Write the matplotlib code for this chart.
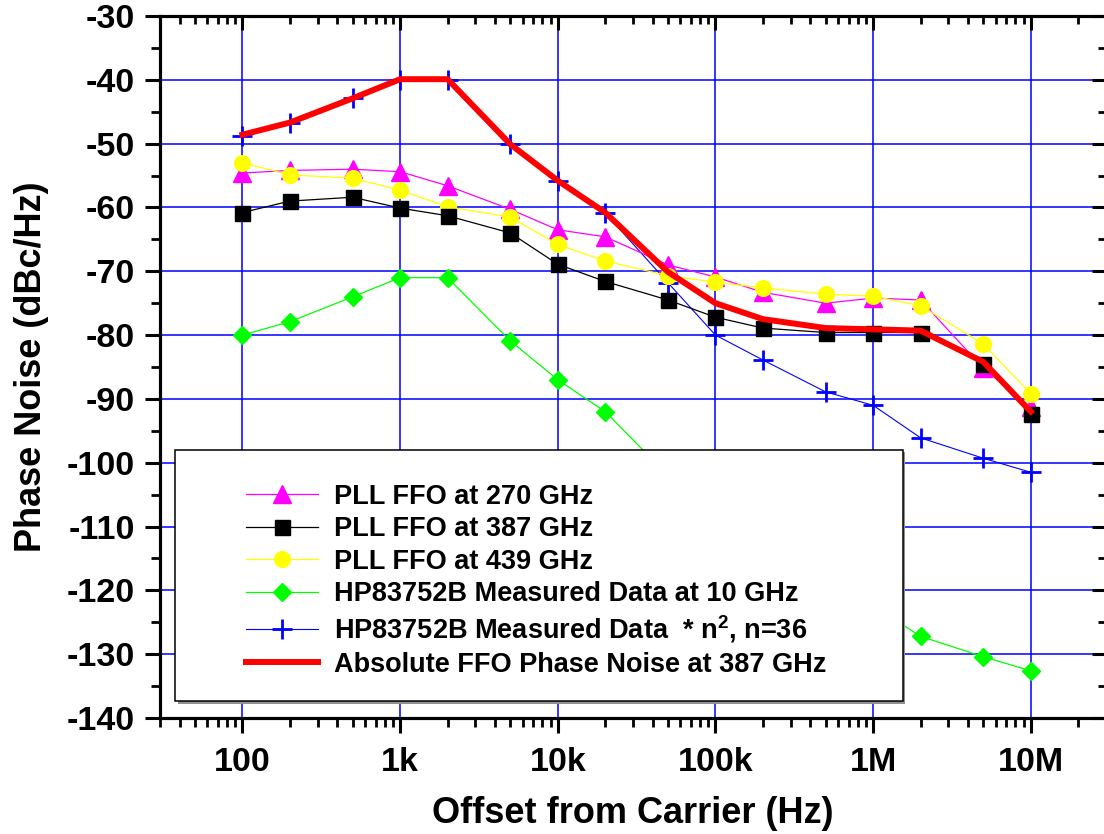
import numpy as np
import matplotlib
matplotlib.use("Agg")
import matplotlib.pyplot as plt
import matplotlib.transforms as mtransforms
from matplotlib.patches import Rectangle
from matplotlib.ticker import (FixedLocator, FixedFormatter, LogLocator,
                               NullFormatter, MultipleLocator)

plt.rcParams['font.family'] = ['Liberation Sans', 'DejaVu Sans']
plt.rcParams['font.weight'] = 'bold'
plt.rcParams['axes.unicode_minus'] = False
plt.rcParams['mathtext.fontset'] = 'custom'
plt.rcParams['mathtext.rm'] = 'Liberation Sans:bold'
plt.rcParams['mathtext.it'] = 'Liberation Sans:bold'
plt.rcParams['mathtext.bf'] = 'Liberation Sans:bold'

# -----------------------------
# DATA
# -----------------------------
freq = [100, 200, 500, 1e3, 2e3, 5e3, 1e4, 2e4, 5e4, 1e5, 2e5, 5e5, 1e6, 2e6, 5e6, 1e7]

pll_270 = [-54.6, -54.2, -54.0, -54.4, -56.6, -60.3, -63.5, -64.6, -69.0, -70.9,
           -73.3, -75.0, -74.2, -74.5, -85.2, -91.3]
pll_387 = [-60.8, -59.0, -58.4, -60.1, -61.3, -64.0, -68.9, -71.6, -74.5, -77.2,
           -78.9, -79.6, -79.6, -79.6, -84.5, -92.4]
pll_439 = [-53.0, -54.9, -55.4, -57.3, -59.9, -61.5, -65.8, -68.4, -70.7, -71.7,
           -72.6, -73.6, -73.9, -75.4, -81.4, -89.2]
hp_10ghz = [-80.0, -77.9, -74.0, -71.0, -71.0, -80.9, -87.0, -92.0, -102.0, -111.0,
            -117.0, -121.0, -122.4, -127.2, -130.4, -132.6]
hp_n2 = [-48.8, -46.8, -42.8, -40.0, -40.0, -50.1, -55.9, -60.9, -71.8, -80.0,
         -83.9, -88.9, -91.0, -96.1, -99.3, -101.5]
ffo_abs = [-48.6, -46.7, -42.9, -39.9, -39.9, -50.1, -55.8, -60.8, -70.1, -75.0,
           -77.5, -78.9, -79.1, -79.3, -84.2, -92.0]

labels = ["PLL FFO at 270 GHz",
          "PLL FFO at 387 GHz",
          "PLL FFO at 439 GHz",
          "HP83752B Measured Data at 10 GHz",
          "HP83752B Measured Data  * n$^{2}$, n=36",
          "Absolute FFO Phase Noise at 387 GHz"]

xticks = [100, 1e3, 1e4, 1e5, 1e6, 1e7]
xticklabels = ["100", "1k", "10k", "100k", "1M", "10M"]
yticks = [-140, -130, -120, -110, -100, -90, -80, -70, -60, -50, -40, -30]

# -----------------------------
# FIGURE
# -----------------------------
fig = plt.figure(figsize=(11.04, 8.34), dpi=100)
ax = fig.add_axes([160 / 1104, 116 / 834, 946 / 1104, 702 / 834])

h_hp10, = ax.plot(freq, hp_10ghz, color='#00FF00', lw=0.9, marker='D', ms=9.2,
                  mec='#00FF00', zorder=2.0)
h_n2, = ax.plot(freq, hp_n2, color='#0000FF', lw=0.8, marker='+', ms=15, mew=2,
                zorder=2.1)
h_270, = ax.plot(freq, pll_270, color='#FF00FF', lw=0.9, marker='^', ms=13.5,
                 mec='#FF00FF', zorder=2.2)
h_439, = ax.plot(freq, pll_439, color='#FFFF00', lw=0.9, marker='o', ms=11.3,
                 mec='#FFFF00', zorder=2.3)
h_387, = ax.plot(freq, pll_387, color='black', lw=0.9, marker='s', ms=10.8,
                 mec='black', zorder=2.4)
h_abs, = ax.plot(freq, ffo_abs, color='#FF0000', lw=4.3, solid_joinstyle='round',
                 zorder=2.5)

ax.set_xscale('log')
ax.set_xlim(30, 3e7)
ax.set_ylim(-140, -30)

ax.xaxis.set_major_locator(FixedLocator(xticks))
ax.xaxis.set_major_formatter(FixedFormatter(xticklabels))
ax.xaxis.set_minor_locator(LogLocator(base=10, subs=np.arange(2, 10), numticks=30))
ax.xaxis.set_minor_formatter(NullFormatter())
ax.yaxis.set_major_locator(FixedLocator(yticks))
ax.yaxis.set_minor_locator(MultipleLocator(5))

ax.grid(True, which='major', color='#0000FF', lw=1.1)
ax.tick_params(which='major', direction='out', length=11, width=2.2,
               labelsize=24.5, pad=7)
ax.tick_params(axis='x', which='major', pad=10)
ax.tick_params(which='minor', direction='out', length=6.5, width=2.0)
for s in ax.spines.values():
    s.set_linewidth(2.2)

ax.set_xlabel("Offset from Carrier (Hz)", fontsize=26, fontweight='bold', labelpad=13)
ax.set_ylabel("Phase Noise (dBc/Hz)", fontsize=26, fontweight='bold', labelpad=13)

# inward ticks on top and right
axt = ax.twiny()
axt.set_xscale('log')
axt.set_xlim(ax.get_xlim())
axt.xaxis.set_major_locator(FixedLocator(xticks))
axt.xaxis.set_minor_locator(LogLocator(base=10, subs=np.arange(2, 10), numticks=30))
axt.xaxis.set_major_formatter(NullFormatter())
axt.xaxis.set_minor_formatter(NullFormatter())
axt.tick_params(axis='x', which='major', direction='in', length=10, width=2.2)
axt.tick_params(axis='x', which='minor', direction='in', length=6, width=2.0)

axr = ax.twinx()
axr.set_ylim(ax.get_ylim())
axr.yaxis.set_major_locator(FixedLocator(yticks))
axr.yaxis.set_minor_locator(MultipleLocator(5))
axr.yaxis.set_major_formatter(NullFormatter())
axr.tick_params(axis='y', which='major', direction='in', length=10, width=2.2)
axr.tick_params(axis='y', which='minor', direction='in', length=6, width=2.0)
for a in (axt, axr):
    for s in a.spines.values():
        s.set_linewidth(2.2)

# legend box with shadow
shadow_tr = mtransforms.offset_copy(ax.transAxes, fig=fig, x=2.5, y=-2.5, units='dots')
ax.add_patch(Rectangle((0.0159, 0.0242), 0.7695, 0.3576, transform=shadow_tr,
                       fc='#909090', ec='none', zorder=4.8))
ax.add_patch(Rectangle((0.0159, 0.0242), 0.7695, 0.3576, transform=ax.transAxes,
                       fc='white', ec='black', lw=1.1, zorder=4.9))

leg = ax.legend([h_270, h_387, h_439, h_hp10, h_n2, h_abs], labels,
                loc='upper left', bbox_to_anchor=(0.091, 0.334),
                frameon=False, fontsize=19.5, borderpad=0, borderaxespad=0,
                handlelength=2.65, handletextpad=0.6, labelspacing=0.24,
                numpoints=1)
leg.set_zorder(6)

fig.savefig("out.png", dpi=100)
